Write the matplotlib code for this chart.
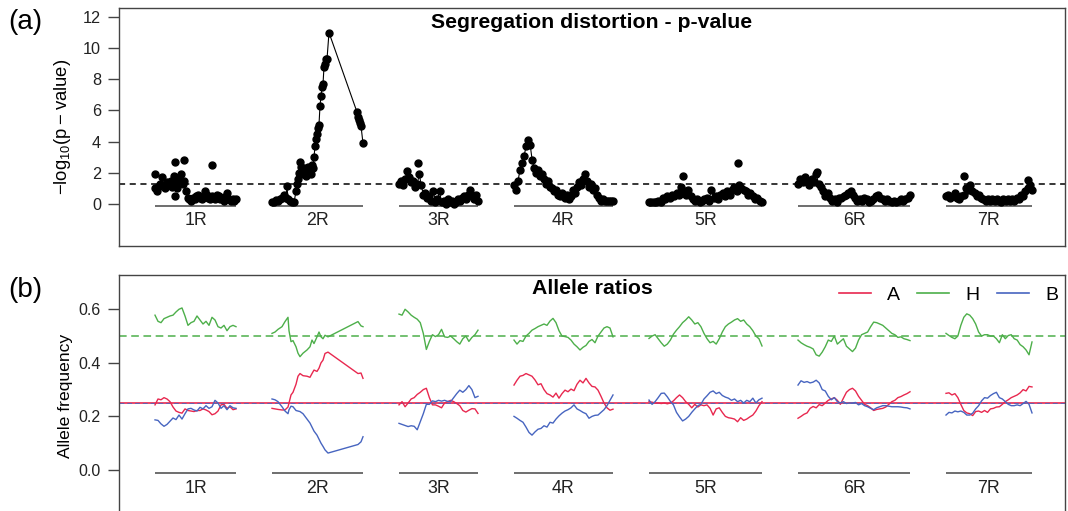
import numpy as np
import matplotlib.pyplot as plt
from matplotlib.lines import Line2D

plt.rcParams['font.family'] = ['Liberation Sans', 'DejaVu Sans']
plt.rcParams['mathtext.fontset'] = 'custom'
plt.rcParams['mathtext.rm'] = 'Liberation Sans'
plt.rcParams['mathtext.default'] = 'regular'

# chromosomes and their map lengths (same units as the x axis)
chroms = ['1R', '2R', '3R', '4R', '5R', '6R', '7R']
chrom_len = [81, 91, 79, 99, 113, 112, 86]
gap = 36

# ---- (a) segregation distortion, -log10(p) per marker ----
pv_1R = [1.0, 0.8, 1.1, 1.3, 1.7, 1.2, 1.0, 1.4, 1.2, 1.5, 1.1, 1.8, 1.4, 1.0, 1.6, 1.9,
         1.3, 1.5, 0.8, 0.4, 0.3, 0.2, 0.4, 0.3, 0.5, 0.6, 0.4, 0.3, 0.5, 0.8, 0.6, 0.4,
         0.3, 0.5, 0.4, 0.3, 0.6, 0.5, 0.3, 0.4, 0.2, 0.5, 0.7, 0.3, 0.2, 0.3, 0.2, 0.3]
pv_pos_2R = [0, 2, 4, 6, 8, 10, 12, 14, 15, 16, 18, 20, 22, 24, 25, 26, 27, 28, 29, 30,
             31, 32, 33, 34, 35, 36, 37, 38, 39, 40, 41, 42, 43, 44, 45, 46, 47, 48, 49,
             50, 51, 52, 53, 54, 55, 57, 85, 86, 87, 88, 89, 91]
pv_2R = [0.1, 0.15, 0.25, 0.2, 0.3, 0.4, 0.55, 0.35, 1.15, 0.3, 0.2, 0.15, 0.1, 0.8, 1.3,
         1.6, 2.0, 2.7, 2.4, 2.0, 1.9, 2.3, 2.1, 1.8, 2.2, 2.4, 2.0, 2.1, 1.9, 2.5, 2.3,
         3.0, 3.7, 4.2, 4.5, 4.9, 5.1, 6.3, 6.9, 7.5, 7.7, 8.8, 9.0, 9.3, 9.3, 11.0, 5.9,
         5.6, 5.4, 5.2, 5.0, 3.9]
pv_3R = [1.3, 1.5, 1.2, 1.6, 2.1, 1.7, 1.4, 1.5, 1.1, 1.3, 1.9, 1.2, 0.6, 0.7, 0.4, 0.5,
         0.2, 0.8, 0.1, 0.3, 0.8, 0.1, 0.2, 0.0, 0.3, 0.1, 0.2, 0.0, 0.1, 0.3, 0.2, 0.4,
         0.5, 0.3, 0.6, 0.9, 0.5, 0.3, 0.6, 0.2]
pv_4R = [1.2, 0.9, 1.5, 2.2, 2.6, 3.1, 3.7, 4.1, 3.8, 2.8, 2.3, 2.0, 2.2, 1.8, 1.9, 1.6,
         1.3, 1.5, 1.1, 1.0, 0.8, 0.9, 0.6, 0.5, 0.7, 0.4, 0.6, 0.3, 0.5, 0.9, 0.7, 1.1,
         1.4, 1.2, 1.6, 1.9, 1.5, 1.1, 1.3, 0.9, 1.0, 0.6, 0.4, 0.2, 0.3, 0.2, 0.2, 0.2,
         0.2, 0.2]
pv_5R = [0.1, 0.1, 0.15, 0.1, 0.2, 0.15, 0.4, 0.3, 0.5, 0.4, 0.6, 0.5, 0.7, 0.6, 1.1,
         0.8, 0.6, 0.9, 0.5, 0.3, 0.2, 0.3, 0.1, 0.2, 0.3, 0.4, 0.2, 0.9, 0.4, 0.5, 0.3,
         0.6, 0.7, 0.5, 0.8, 0.6, 0.9, 1.1, 0.8, 1.2, 1.0, 0.9, 0.8, 0.6, 0.7, 0.5, 0.3,
         0.4, 0.2, 0.1]
pv_6R = [1.3, 1.6, 1.4, 1.7, 1.5, 1.2, 1.6, 1.4, 1.9, 1.3, 1.1, 0.8, 0.5, 0.7, 0.4, 0.2,
         0.3, 0.1, 0.4, 0.4, 0.5, 0.6, 0.7, 0.8, 0.6, 0.4, 0.2, 0.3, 0.2, 0.4, 0.3, 0.1,
         0.2, 0.3, 0.5, 0.6, 0.4, 0.3, 0.2, 0.3, 0.2, 0.1, 0.2, 0.1, 0.2, 0.3, 0.2, 0.3,
         0.4, 0.55]
pv_7R = [0.5, 0.6, 0.4, 0.5, 0.7, 0.4, 0.3, 0.5, 0.6, 1.0, 0.9, 1.2, 0.8, 0.7, 0.5, 0.6,
         0.4, 0.3, 0.2, 0.3, 0.2, 0.3, 0.2, 0.3, 0.2, 0.1, 0.3, 0.2, 0.3, 0.2, 0.3, 0.2,
         0.4, 0.3, 0.6, 0.5, 0.8, 1.0, 1.2, 0.9]

# single markers drawn without the connecting line
odd_chrom = ['1R', '1R', '1R', '1R', '1R', '3R', '5R', '5R', '6R', '7R', '7R']
odd_pos = [0, 20, 29, 57, 20, 19, 34, 89, 19, 18, 82]
odd_val = [1.9, 2.7, 2.8, 2.5, 0.5, 2.6, 1.8, 2.6, 2.05, 1.8, 1.55]

threshold = 1.3

# ---- (b) allele ratios A / H / B ----
A_1R = [0.243, 0.265, 0.262, 0.27, 0.265, 0.255, 0.235, 0.22, 0.215, 0.212, 0.228, 0.222,
        0.22, 0.218, 0.222, 0.222, 0.228, 0.224, 0.218, 0.206, 0.21, 0.22, 0.243, 0.245,
        0.23, 0.236, 0.225, 0.228]
H_1R = [0.578, 0.555, 0.55, 0.565, 0.57, 0.575, 0.578, 0.59, 0.6, 0.605, 0.575, 0.54,
        0.55, 0.555, 0.575, 0.56, 0.545, 0.555, 0.54, 0.57, 0.56, 0.535, 0.53, 0.54, 0.52,
        0.535, 0.54, 0.535]
B_1R = [0.187, 0.185, 0.172, 0.163, 0.17, 0.182, 0.194, 0.188, 0.205, 0.19, 0.21, 0.228,
        0.23, 0.224, 0.22, 0.234, 0.228, 0.24, 0.23, 0.236, 0.26, 0.25, 0.23, 0.24, 0.225,
        0.24, 0.232, 0.23]

af_pos_2R = [0, 3, 6, 10, 13, 16, 17, 19, 21, 24, 26, 28, 31, 35, 38, 40, 42, 45, 47, 49,
             51, 53, 56, 86, 89, 91]
A_2R = [0.23, 0.228, 0.226, 0.224, 0.224, 0.235, 0.25, 0.28, 0.29, 0.32, 0.35, 0.36, 0.352,
        0.35, 0.346, 0.36, 0.373, 0.368, 0.38, 0.4, 0.41, 0.435, 0.44, 0.36, 0.362, 0.342]
H_2R = [0.51, 0.515, 0.525, 0.535, 0.554, 0.57, 0.52, 0.479, 0.483, 0.46, 0.436, 0.423,
        0.436, 0.448, 0.46, 0.485, 0.472, 0.497, 0.515, 0.497, 0.49, 0.503, 0.497, 0.554,
        0.538, 0.535]
B_2R = [0.265, 0.262, 0.255, 0.236, 0.22, 0.21, 0.225, 0.238, 0.236, 0.222, 0.22, 0.218,
        0.21, 0.19, 0.175, 0.16, 0.145, 0.13, 0.115, 0.1, 0.088, 0.075, 0.063, 0.095, 0.105,
        0.124]

A_3R = [0.243, 0.255, 0.236, 0.25, 0.265, 0.27, 0.282, 0.29, 0.3, 0.305, 0.27, 0.243, 0.243,
        0.238, 0.232, 0.25, 0.255, 0.26, 0.255, 0.248, 0.24, 0.222, 0.216, 0.223, 0.229,
        0.228, 0.211]
H_3R = [0.582, 0.578, 0.6, 0.59, 0.578, 0.57, 0.563, 0.55, 0.51, 0.45, 0.48, 0.505, 0.498,
        0.505, 0.525, 0.497, 0.495, 0.5, 0.49, 0.479, 0.47, 0.49, 0.5, 0.48, 0.495, 0.505,
        0.522]
B_3R = [0.174, 0.17, 0.166, 0.162, 0.165, 0.163, 0.15, 0.18, 0.21, 0.245, 0.245, 0.258,
        0.255, 0.26, 0.257, 0.26, 0.256, 0.255, 0.27, 0.285, 0.298, 0.29, 0.3, 0.315, 0.3,
        0.27, 0.275]

A_4R = [0.317, 0.335, 0.35, 0.353, 0.36, 0.355, 0.35, 0.336, 0.318, 0.322, 0.3, 0.285, 0.28,
        0.272, 0.287, 0.268, 0.285, 0.298, 0.292, 0.302, 0.296, 0.32, 0.335, 0.325, 0.342,
        0.325, 0.312, 0.31, 0.298, 0.275, 0.25, 0.232, 0.223, 0.227]
H_4R = [0.485, 0.47, 0.483, 0.48, 0.5, 0.51, 0.522, 0.528, 0.535, 0.54, 0.545, 0.54, 0.556,
        0.566, 0.55, 0.52, 0.5, 0.498, 0.495, 0.485, 0.47, 0.46, 0.448, 0.458, 0.465, 0.48,
        0.487, 0.475, 0.5, 0.515, 0.53, 0.535, 0.53, 0.497]
B_4R = [0.2, 0.193, 0.185, 0.178, 0.16, 0.14, 0.13, 0.142, 0.152, 0.155, 0.165, 0.16, 0.178,
        0.175, 0.19, 0.202, 0.212, 0.22, 0.225, 0.232, 0.243, 0.228, 0.222, 0.215, 0.21,
        0.193, 0.2, 0.204, 0.205, 0.215, 0.225, 0.24, 0.26, 0.28]

A_5R = [0.255, 0.253, 0.25, 0.25, 0.248, 0.25, 0.247, 0.25, 0.258, 0.27, 0.28, 0.27, 0.255,
        0.245, 0.232, 0.245, 0.235, 0.243, 0.24, 0.243, 0.23, 0.205, 0.228, 0.232, 0.215,
        0.2, 0.195, 0.193, 0.19, 0.18, 0.195, 0.185, 0.19, 0.198, 0.205, 0.22, 0.24, 0.255]
H_5R = [0.491, 0.5, 0.505, 0.49, 0.475, 0.462, 0.47, 0.485, 0.507, 0.522, 0.535, 0.55, 0.56,
        0.572, 0.56, 0.545, 0.55, 0.535, 0.51, 0.49, 0.475, 0.48, 0.47, 0.49, 0.515, 0.535,
        0.545, 0.552, 0.56, 0.565, 0.555, 0.56, 0.545, 0.535, 0.52, 0.5, 0.49, 0.463]
B_5R = [0.261, 0.245, 0.255, 0.27, 0.286, 0.287, 0.273, 0.256, 0.243, 0.215, 0.198, 0.183,
        0.19, 0.2, 0.215, 0.228, 0.24, 0.245, 0.265, 0.277, 0.29, 0.295, 0.285, 0.29, 0.278,
        0.272, 0.268, 0.26, 0.265, 0.255, 0.26, 0.25, 0.26, 0.255, 0.268, 0.25, 0.262, 0.268]

A_6R = [0.193, 0.2, 0.208, 0.213, 0.23, 0.237, 0.232, 0.244, 0.24, 0.25, 0.26, 0.265, 0.27,
        0.26, 0.245, 0.268, 0.29, 0.3, 0.305, 0.295, 0.275, 0.26, 0.245, 0.24, 0.232, 0.222,
        0.226, 0.228, 0.23, 0.235, 0.245, 0.255, 0.26, 0.27, 0.274, 0.28, 0.285, 0.292]
H_6R = [0.485, 0.475, 0.468, 0.462, 0.458, 0.452, 0.43, 0.425, 0.44, 0.46, 0.485, 0.48, 0.5,
        0.47, 0.48, 0.49, 0.462, 0.452, 0.442, 0.455, 0.485, 0.505, 0.51, 0.515, 0.535,
        0.552, 0.55, 0.545, 0.54, 0.53, 0.52, 0.51, 0.505, 0.495, 0.497, 0.49, 0.487, 0.483]
B_6R = [0.317, 0.333, 0.327, 0.33, 0.325, 0.328, 0.335, 0.325, 0.3, 0.295, 0.275, 0.262,
        0.27, 0.255, 0.25, 0.255, 0.248, 0.25, 0.25, 0.252, 0.243, 0.248, 0.24, 0.236, 0.23,
        0.225, 0.232, 0.236, 0.24, 0.24, 0.238, 0.236, 0.236, 0.236, 0.235, 0.233, 0.232,
        0.228]

A_7R = [0.286, 0.288, 0.28, 0.285, 0.27, 0.245, 0.222, 0.213, 0.21, 0.203, 0.218, 0.22,
        0.215, 0.222, 0.215, 0.228, 0.23, 0.235, 0.236, 0.245, 0.255, 0.262, 0.27, 0.275,
        0.28, 0.288, 0.3, 0.295, 0.312, 0.31]
H_7R = [0.51, 0.502, 0.495, 0.49, 0.5, 0.54, 0.57, 0.583, 0.578, 0.565, 0.545, 0.515, 0.5,
        0.505, 0.505, 0.5, 0.5, 0.49, 0.475, 0.505, 0.49, 0.502, 0.505, 0.49, 0.485, 0.468,
        0.46, 0.448, 0.43, 0.478]
B_7R = [0.205, 0.215, 0.213, 0.22, 0.217, 0.22, 0.215, 0.205, 0.205, 0.212, 0.228, 0.24,
        0.258, 0.27, 0.268, 0.278, 0.285, 0.29, 0.27, 0.265, 0.255, 0.245, 0.24, 0.24, 0.243,
        0.24, 0.248, 0.256, 0.245, 0.213]

pv = dict(zip(chroms, [pv_1R, pv_2R, pv_3R, pv_4R, pv_5R, pv_6R, pv_7R]))
freq_A = dict(zip(chroms, [A_1R, A_2R, A_3R, A_4R, A_5R, A_6R, A_7R]))
freq_H = dict(zip(chroms, [H_1R, H_2R, H_3R, H_4R, H_5R, H_6R, H_7R]))
freq_B = dict(zip(chroms, [B_1R, B_2R, B_3R, B_4R, B_5R, B_6R, B_7R]))
pv_pos_known = {'2R': pv_pos_2R}
af_pos_known = {'2R': af_pos_2R}

col_A = '#E8284F'
col_H = '#4DAF4A'
col_B = '#4765C0'
frame_col = '#444444'

offsets = np.concatenate([[0], np.cumsum(np.array(chrom_len[:-1]) + gap)])
start = dict(zip(chroms, offsets))
length = dict(zip(chroms, chrom_len))


def positions(ch, n, known):
    # evenly placed markers unless positions
    if ch in known:
        return start[ch] + np.array(known[ch], dtype=float)
    return start[ch] + np.linspace(0, length[ch], n)


def style_axis(ax, fs):
    for sp in ax.spines.values():
        sp.set_color(frame_col)
        sp.set_linewidth(1.0)
    ax.tick_params(axis='y', direction='out', length=8, width=1.0, color=frame_col,
                   pad=5, labelsize=fs, labelcolor='#222222')
    ax.set_xticks([])
    ax.set_xlim(-gap, offsets[-1] + chrom_len[-1] + 33)


def chrom_bars(ax, bar_y, lab_y, fs):
    for ch in chroms:
        ax.plot([start[ch], start[ch] + length[ch]], [bar_y, bar_y], color='#555555',
                lw=1.2, solid_capstyle='butt')
        ax.text(start[ch] + length[ch] / 2, lab_y, ch, ha='center', va='center',
                fontsize=fs, color='#222222')


fig = plt.figure(figsize=(10.68, 5.11), dpi=100)
W, Hh = 1068, 511
ax1 = fig.add_axes([119 / W, 1 - 246 / Hh, 946 / W, 238 / Hh])
ax2 = fig.add_axes([119 / W, 1 - 516 / Hh, 946 / W, 241 / Hh])

# ---------- panel (a) ----------
style_axis(ax1, 11.7)
ax1.set_ylim(-2.70, 12.58)
ax1.set_yticks([0, 2, 4, 6, 8, 10, 12])
ax1.axhline(threshold, color='black', lw=1.1, ls=(0, (4, 3)))
for ch in chroms:
    y = pv[ch]
    x = positions(ch, len(y), pv_pos_known)
    ax1.plot(x, y, '-', color='black', lw=0.8, zorder=3)
    ax1.plot(x, y, 'o', color='black', ms=5, mec='black', zorder=4)
for ch, p, v in zip(odd_chrom, odd_pos, odd_val):
    ax1.plot(start[ch] + p, v, 'o', color='black', ms=5, zorder=4)
chrom_bars(ax1, -0.16, -1.05, 12.8)
ax1.set_ylabel(r'$-\mathrm{log}_{10}(\mathrm{p}-\mathrm{value})$', fontsize=13.3)
ax1.yaxis.set_label_coords(-0.049, 0.5)
ax1.text(0.5, 0.937, 'Segregation distortion - p-value', transform=ax1.transAxes,
         ha='center', va='center', fontsize=15.3, fontweight='bold')

# ---------- panel (b) ----------
style_axis(ax2, 11.5)
ax2.set_ylim(-0.172, 0.728)
ax2.set_yticks([0.0, 0.2, 0.4, 0.6])
ax2.set_yticklabels(['0.0', '0.2', '0.4', '0.6'])
ax2.axhline(0.5, color=col_H, lw=1.1, ls=(0, (5, 3)))
ax2.axhline(0.25, color=col_A, lw=1.2)
ax2.axhline(0.25, color=col_B, lw=0.7, ls=(0, (5, 3)), alpha=0.8)
for ch in chroms:
    for freq, col in [(freq_A, col_A), (freq_H, col_H), (freq_B, col_B)]:
        y = freq[ch]
        x = positions(ch, len(y), af_pos_known)
        ax2.plot(x, y, '-', color=col, lw=1.0, zorder=3)
chrom_bars(ax2, -0.011, -0.071, 12.8)
ax2.set_ylabel('Allele frequency', fontsize=12.6)
ax2.yaxis.set_label_coords(-0.049, 0.5)
ax2.text(0.5, 0.942, 'Allele ratios', transform=ax2.transAxes,
         ha='center', va='center', fontsize=15.3, fontweight='bold')
handles = [Line2D([], [], color=c, lw=1.2) for c in (col_A, col_H, col_B)]
ax2.legend(handles, ['A', 'H', 'B'], loc='center right',
           bbox_to_anchor=((1058 - 119) / 946, 0.917), ncol=3, frameon=False,
           fontsize=14, handlelength=1.65, handletextpad=0.82, columnspacing=0.9,
           borderpad=0, borderaxespad=0)

fig.text(25 / W, 1 - 22 / Hh, '(a)', fontsize=20, ha='center', va='center')
fig.text(25 / W, 1 - 290 / Hh, '(b)', fontsize=20, ha='center', va='center')

fig.savefig('out.png', dpi=100)
